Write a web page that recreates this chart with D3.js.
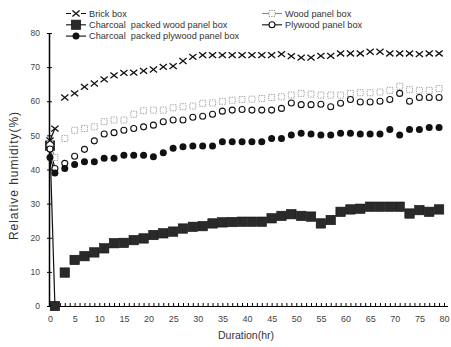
<!DOCTYPE html>
<html>
<head>
<meta charset="utf-8">
<script src="https://cdn.jsdelivr.net/npm/d3@7"></script>
<style>
  body { margin: 0; background: #fff; }
  svg { display: block; font-family: "Liberation Sans", Arial, sans-serif; }
</style>
</head>
<body>
<figure id="chart" style="margin:0"></figure>
<script>
// sampling times (hr)
const hours = [0, 1, 3, 5, 7, 9, 11, 13, 15, 17, 19, 21, 23, 25, 27, 29, 31, 33, 35, 37, 39,
  41, 43, 45, 47, 49, 51, 53, 55, 57, 59, 61, 63, 65, 67, 69, 71, 73, 75, 77, 79];

const brickBox = [48.5, 52.0, 61.1, 62.3, 64.2, 65.2, 66.4, 67.6, 68.3, 68.4, 68.9, 69.3, 70.1, 70.3, 71.8, 73.0, 73.5, 73.5, 73.5, 73.5, 73.5,
  73.5, 73.5, 73.5, 73.8, 73.2, 72.8, 72.8, 73.3, 73.3, 74.0, 74.0, 74.0, 74.5, 74.5, 74.0, 74.0, 74.0, 73.8, 74.0, 74.0];
const woodPanel = [47.5, 43.5, 49.1, 51.5, 52.0, 52.5, 54.0, 54.5, 54.5, 56.2, 57.2, 57.4, 57.4, 58.1, 58.4, 58.6, 59.4, 59.5, 60.0, 60.3, 60.5,
  60.6, 60.8, 61.1, 61.3, 61.8, 62.3, 62.1, 61.8, 61.8, 61.8, 62.3, 62.5, 62.5, 62.7, 63.2, 64.4, 63.4, 63.2, 63.2, 63.7];
const charcoalWood = [47.0, 0.0, 9.8, 13.5, 14.6, 15.7, 16.9, 18.4, 18.5, 19.3, 19.8, 20.8, 21.3, 21.8, 22.7, 23.2, 23.4, 24.2, 24.5, 24.6, 24.7,
  24.7, 24.7, 25.7, 26.4, 26.9, 26.4, 26.2, 24.2, 25.2, 27.6, 28.3, 28.5, 29.1, 29.1, 29.1, 29.1, 27.1, 28.1, 27.6, 28.3];
const plywoodPanel = [46.0, 40.3, 41.8, 43.9, 45.9, 48.4, 50.4, 50.8, 51.5, 52.0, 52.5, 53.0, 54.0, 54.5, 54.5, 55.3, 55.6, 56.2, 57.1, 57.4, 57.6,
  57.4, 57.4, 57.4, 57.9, 59.5, 59.0, 59.0, 59.1, 58.4, 59.4, 60.5, 59.8, 59.8, 60.0, 60.5, 62.3, 60.0, 61.1, 61.1, 61.1];
const charcoalPlywood = [43.5, 39.0, 40.3, 41.5, 42.3, 42.3, 43.3, 43.3, 44.2, 44.2, 44.2, 43.7, 44.9, 46.2, 46.7, 46.9, 46.9, 46.9, 48.1, 48.1, 48.1,
  48.1, 48.1, 49.1, 49.1, 50.1, 50.6, 50.4, 50.1, 50.1, 50.6, 50.6, 50.4, 50.4, 50.4, 51.7, 50.1, 51.7, 51.7, 52.3, 52.3];

const xTicks = [0, 5, 10, 15, 20, 25, 30, 35, 40, 45, 50, 55, 60, 65, 70, 75, 80];
const yTicks = [0, 10, 20, 30, 40, 50, 60, 70, 80];

const series = [
  { name: "Charcoal  packed wood panel box", values: charcoalWood, marker: "bigsquare", col: 0, row: 1 },
  { name: "Wood panel box", values: woodPanel, marker: "dotsquare", col: 1, row: 0 },
  { name: "Plywood panel box", values: plywoodPanel, marker: "circle", col: 1, row: 1 },
  { name: "Charcoal  packed plywood panel box", values: charcoalPlywood, marker: "dot", col: 0, row: 2 },
  { name: "Brick box", values: brickBox, marker: "cross", col: 0, row: 0 }
];

const width = 451, height = 347;
const x = d3.scaleLinear().domain([0, 80]).range([50, 444]);
const y = d3.scaleLinear().domain([0, 80]).range([306, 33]);

const svg = d3.select("#chart").append("svg")
  .attr("width", width)
  .attr("height", height);

function marker(g, type) {
  if (type === "cross") {
    g.append("path").attr("d", "M-3.6,-2.9L3.6,2.9M-3.6,2.9L3.6,-2.9")
      .attr("stroke", "#111").attr("stroke-width", 1.3).attr("fill", "none");
  } else if (type === "dotsquare") {
    g.append("rect").attr("x", -3).attr("y", -3).attr("width", 6).attr("height", 6)
      .attr("fill", "#fff").attr("stroke", "#999").attr("stroke-width", 0.9)
      .attr("stroke-dasharray", "1.4,1");
  } else if (type === "circle") {
    g.append("circle").attr("r", 3)
      .attr("fill", "#fff").attr("stroke", "#111").attr("stroke-width", 1.1);
  } else if (type === "dot") {
    g.append("circle").attr("r", 3.5).attr("fill", "#111");
  } else if (type === "bigsquare") {
    g.append("rect").attr("x", -4.7).attr("y", -4.7).attr("width", 9.4).attr("height", 9.4)
      .attr("fill", "#2a2a2a").attr("stroke", "#111").attr("stroke-width", 0.6);
  }
}

// axes
const xMinor = d3.range(0, 81, 1);
svg.append("g")
  .attr("transform", "translate(0,306)")
  .call(d3.axisBottom(x).tickValues(xMinor).tickSizeInner(-3).tickSizeOuter(0).tickFormat(""))
  .call(g => g.select(".domain").attr("d", "M48,0.5H448").attr("stroke-width", 1.2));

svg.append("g")
  .attr("transform", "translate(0,306)")
  .call(d3.axisBottom(x).tickValues(xTicks).tickSize(0).tickPadding(10))
  .call(g => g.select(".domain").remove())
  .call(g => g.selectAll("text").attr("font-size", 9).attr("fill", "#444"));

svg.append("g")
  .attr("transform", "translate(49,0)")
  .call(d3.axisLeft(y).tickValues(yTicks).tickSizeInner(2).tickSizeOuter(0).tickPadding(7))
  .call(g => g.select(".domain").attr("stroke-width", 1.5))
  .call(g => g.selectAll("text").attr("font-size", 8.5).attr("fill", "#444"));

svg.append("g")
  .attr("transform", "translate(49,0)")
  .call(d3.axisRight(y).tickValues(yTicks).tickSize(3).tickFormat(""))
  .call(g => g.select(".domain").remove());

// first segment (0 -> 1 hr) is joined by a line
const line = d3.line().x(d => x(d[0])).y(d => y(d[1]));
series.forEach(s => {
  svg.append("path")
    .attr("d", line([[hours[0], s.values[0]], [hours[1], s.values[1]]]))
    .attr("fill", "none")
    .attr("stroke", s.marker === "dotsquare" ? "#888" : "#111")
    .attr("stroke-width", 1.2);
});

// markers
series.forEach(s => {
  svg.append("g").selectAll("g")
    .data(s.values.map((v, i) => [hours[i], v]))
    .enter()
    .append("g")
    .attr("transform", d => "translate(" + x(d[0]) + "," + y(d[1]) + ")")
    .each(function() { marker(d3.select(this), s.marker); });
});

// legend
const legend = svg.append("g").attr("font-size", 9.2).attr("fill", "#333");
series.forEach(s => {
  const cx = s.col === 0 ? 76 : 272;
  const cy = 13.5 + s.row * 11.3;
  const lg = legend.append("g").attr("transform", "translate(" + cx + "," + cy + ")");
  if (s.marker === "cross") {
    lg.append("path").attr("d", "M-10,0H-5M5,0H10").attr("stroke", "#111").attr("stroke-width", 1);
  } else {
    lg.append("path").attr("d", "M-10,0H10")
      .attr("stroke", s.marker === "dotsquare" ? "#888" : "#111").attr("stroke-width", 1.1);
  }
  marker(lg, s.marker);
  legend.append("text")
    .attr("x", cx + 13)
    .attr("y", cy + 3.2)
    .attr("xml:space", "preserve")
    .style("white-space", "pre")
    .text(s.name);
});

// axis titles
svg.append("text")
  .attr("transform", "translate(18,176) rotate(-90)")
  .attr("text-anchor", "middle")
  .attr("font-size", 12)
  .attr("textLength", 128)
  .attr("lengthAdjust", "spacing")
  .attr("fill", "#333")
  .text("Relative humidity(%)");

svg.append("text")
  .attr("x", 246)
  .attr("y", 339)
  .attr("text-anchor", "middle")
  .attr("font-size", 10.5)
  .attr("fill", "#333")
  .text("Duration(hr)");
</script>
</body>
</html>
